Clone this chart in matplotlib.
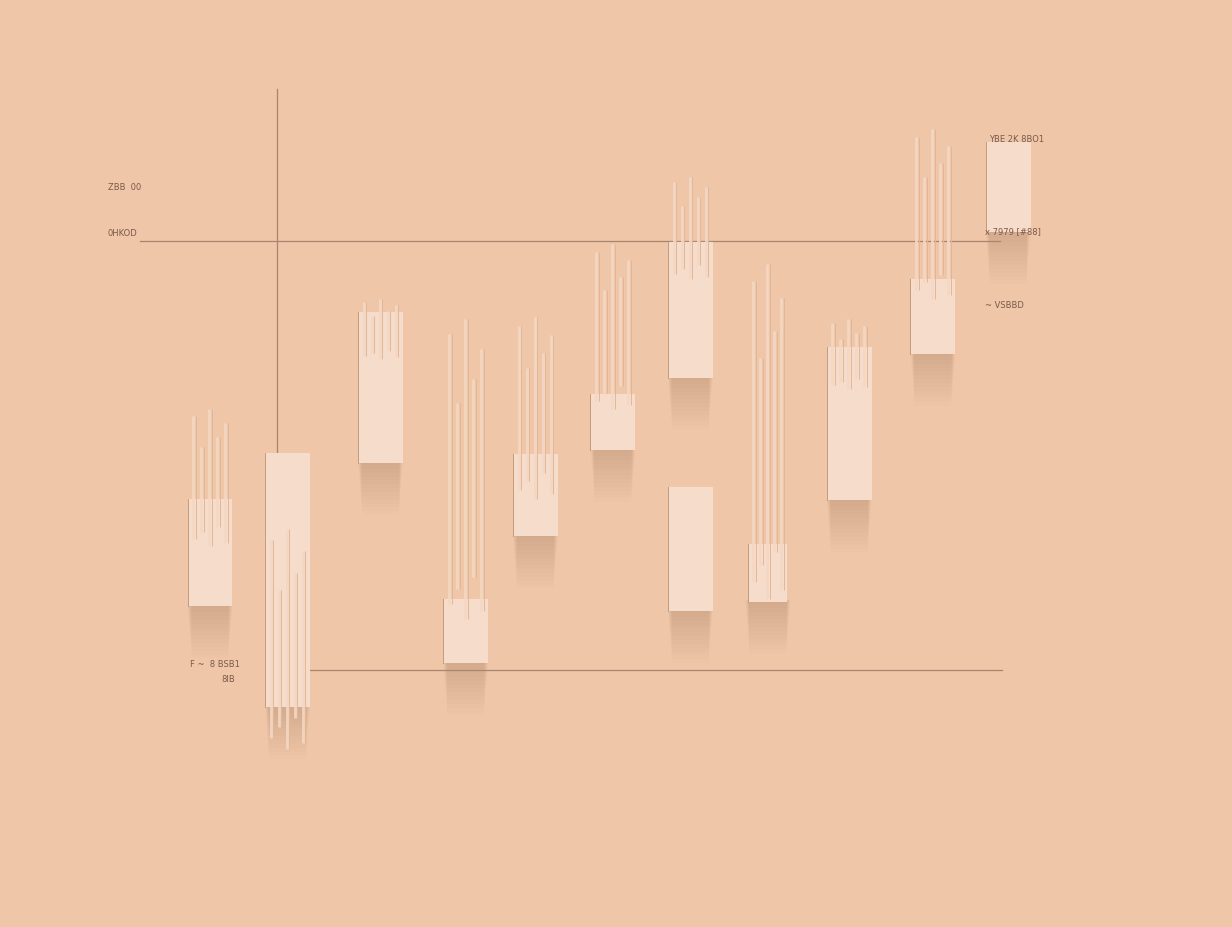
import matplotlib.pyplot as plt
from matplotlib.patches import Rectangle

# candle data (x position, body top/bottom, streak top/bottom)
xpos = [1.0, 2.0, 3.2, 4.3, 5.2, 6.2, 7.2, 7.2, 8.2, 9.25, 10.33, 11.3]
body_top = [139.9, 150.6, 183.5, 116.6, 150.3, 164.3, 199.8, 142.7, 129.4, 175.3, 191.1, 223.1]
body_bot = [114.9, 91.4, 148.3, 101.6, 131.2, 151.3, 168.1, 113.8, 115.9, 139.6, 173.7, 202.1]
streak_top = [160.8, 132.9, 186.5, 181.8, 182.3, 199.3, 214.9, None, 194.6, 181.8, 226.1, None]
streak_bot = [128.9, 81.6, 172.5, 111.9, 139.9, 160.8, 191.1, None, 116.6, 165.5, 186.5, None]

# labels floating around the plot
labels = ["ZBB  00", "0HKOD", "YBE 2K 8BO1", "x 7979 [#88]", "~ VSBBD", "F ~  8 BSB1", "8IB"]
label_xy = [(-0.32, 212.8), (-0.32, 201.9), (11.06, 224.0), (11.0, 202.3), (11.0, 185.1), (0.74, 101.6), (1.15, 98.1)]

bg = "#F0C6A8"
bar_col = "#F6DCCA"
line_col = "#A8866E"

fig = plt.figure(figsize=(12.32, 9.28), dpi=100)
fig.patch.set_facecolor(bg)
ax = fig.add_axes([0, 0, 1, 1])
ax.set_facecolor(bg)
ax.set_xlim(-1.71, 14.19)
ax.set_ylim(40.1, 256.4)
ax.axis("off")

width = 0.58
# soft shadows under the bodies
for x, b in zip(xpos, body_bot):
    for k in range(14):
        ax.add_patch(Rectangle((x - width / 2 + 0.004 * k, b - 0.9 * k - 0.5),
                               width - 0.008 * k, 1.0 + 0.9 * k,
                               facecolor="#7A4A2E", edgecolor="none", alpha=0.011, zorder=1))

# axis-like guide lines
ax.plot([0.097, 11.19], [200, 200], color=line_col, lw=0.9, zorder=2)
ax.plot([1.865, 11.22], [100, 100], color=line_col, lw=0.9, zorder=2)
ax.plot([1.865, 1.865], [93.2, 235.4], color=line_col, lw=0.9, zorder=2)

fracs = [0.05, 0.28, 0.0, 0.2, 0.1]
for i, x in enumerate(xpos):
    w = width if i != 8 else 0.5
    ax.add_patch(Rectangle((x - w / 2, body_bot[i]), w, body_top[i] - body_bot[i],
                           facecolor=bar_col, edgecolor="none", zorder=3))
    ax.plot([x - w / 2, x - w / 2], [body_bot[i], body_top[i]], color="#C49A7A", lw=0.7, zorder=4)
    if streak_top[i] is None:
        continue
    span = streak_top[i] - streak_bot[i]
    for j, f in enumerate(fracs):
        sx = x - w / 2 + w * (j + 0.7) / 5.6
        top = streak_top[i] - span * f
        bot = streak_bot[i] + span * fracs[-1 - j] * 0.5
        ax.plot([sx, sx], [bot, top], color="#F4D8C4", lw=2.0, zorder=5, solid_capstyle="butt", alpha=0.9)
        ax.plot([sx + 0.035, sx + 0.035], [bot, top], color="#E2B797", lw=0.7, zorder=5, solid_capstyle="butt")

for t, (lx, ly) in zip(labels, label_xy):
    ax.text(lx, ly, t, fontsize=6, color="#7A5A48", va="center", ha="left", zorder=6)

fig.savefig("out.png", dpi=100, facecolor=bg)
